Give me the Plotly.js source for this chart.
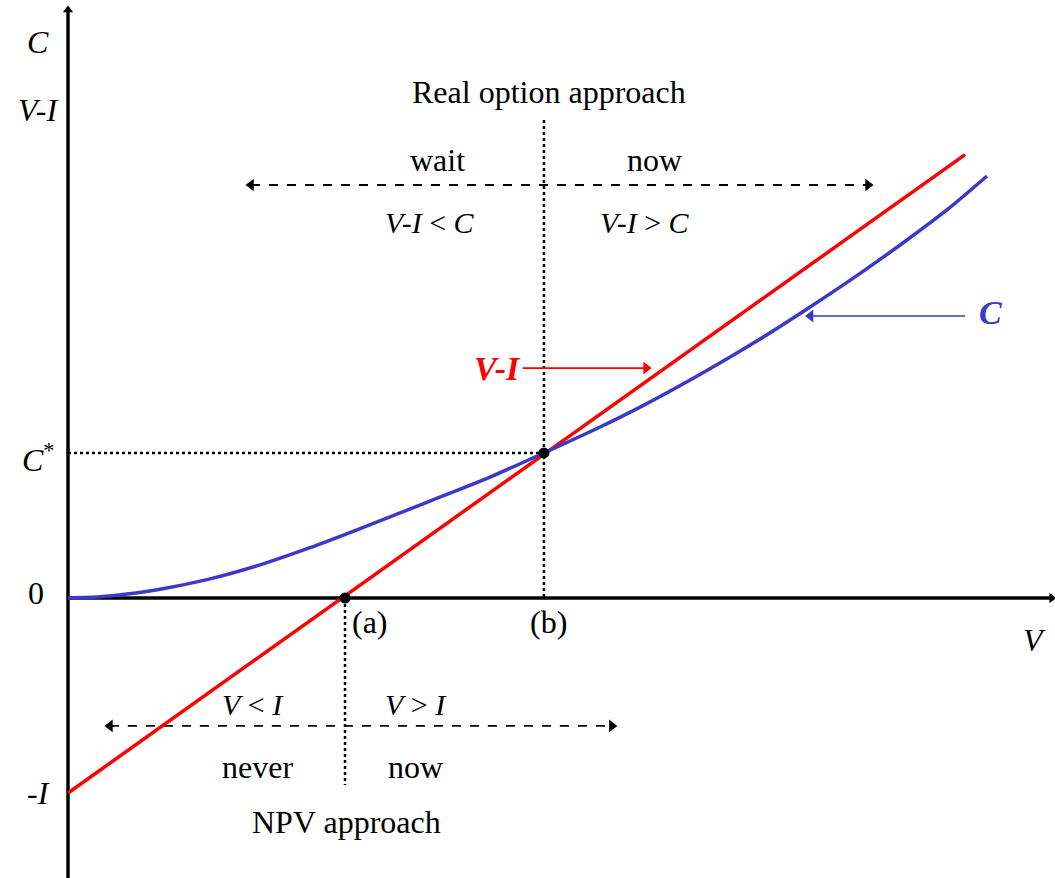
<!DOCTYPE html>
<html>
<head>
<meta charset="utf-8">
<script src="https://cdn.plot.ly/plotly-3.0.1.min.js"></script>
<style>
  html, body { margin: 0; padding: 0; background: #ffffff; }
  #chart { width: 1055px; height: 878px; }
</style>
</head>
<body>
<div id="chart"></div>
<script>
// Value of the firm V (investment cost I = 1) and the option value C
const optionV = [0, 0.117, 0.215, 0.336, 0.518, 0.701, 0.883, 1.066, 1.321, 1.540, 1.737,
                 1.942, 2.088, 2.332, 2.526, 2.697, 2.891, 3.062, 3.219, 3.354];
const optionC = [0, 0.006, 0.020, 0.045, 0.098, 0.170, 0.258, 0.356, 0.497, 0.620, 0.744,
                 0.877, 0.979, 1.167, 1.328, 1.482, 1.665, 1.836, 2.003, 2.164];

// NPV line V - I
const npvV = [0, 3.274];
const npvY = [-1, 2.274];

// Key points: (a) V = I, (b) V = V*, C = C*
const pointV = [1.011, 1.737];
const pointY = [0, 0.744];

// Axis extents
const axisTop = 3.015;
const axisBottom = -1.436;
const axisRight = 3.59;

// Arrow ranges for the two decision rules
const optionRuleX = [0.668, 2.920];
const optionRuleY = 2.118;
const npvRuleX = [0.153, 1.985];
const npvRuleY = -0.656;

// Pointers from the curve names
const redPointerX = [1.66, 2.11];
const redPointerY = 1.179;
const bluePointerX = [3.274, 2.71];
const bluePointerY = 1.446;

const serif = '"Liberation Serif", "DejaVu Serif", serif';
const blue = '#3a3ac8';
const red = '#ff0000';

function line(x, y, color, width, dash) {
    return {
        x: x, y: y, type: 'scatter', mode: 'lines',
        line: { color: color, width: width, dash: dash || 'solid' },
        hoverinfo: 'skip', showlegend: false
    };
}

function heads(x, y, symbols, size, color) {
    return {
        x: x, y: y, type: 'scatter', mode: 'markers',
        marker: { symbol: symbols, size: size, color: color || 'black' },
        hoverinfo: 'skip', showlegend: false
    };
}

const traces = [
    // axes
    line([0, 0], [axisBottom, axisTop], 'black', 3.5),
    line([0, axisRight], [0, 0], 'black', 3.5),
    heads([0, axisRight], [axisTop, 0], ['triangle-up', 'triangle-right'], 9),
    // guide lines
    line([0, pointV[1]], [pointY[1], pointY[1]], 'black', 2.5, 'dot'),
    line([pointV[1], pointV[1]], [2.451, 0], 'black', 2.5, 'dot'),
    line([pointV[0], pointV[0]], [0, -0.959], 'black', 2.5, 'dot'),
    // decision rule arrows
    line(optionRuleX, [optionRuleY, optionRuleY], 'black', 1.8, 'dash'),
    heads(optionRuleX, [optionRuleY, optionRuleY], ['triangle-left', 'triangle-right'], 11),
    line(npvRuleX, [npvRuleY, npvRuleY], 'black', 1.8, 'dash'),
    heads(npvRuleX, [npvRuleY, npvRuleY], ['triangle-left', 'triangle-right'], 11),
    // curves
    line(npvV, npvY, red, 3.5),
    {
        x: optionV, y: optionC, type: 'scatter', mode: 'lines',
        line: { color: blue, width: 3.5, shape: 'spline', smoothing: 0.8 },
        hoverinfo: 'skip', showlegend: false
    },
    {
        x: pointV, y: pointY, type: 'scatter', mode: 'markers',
        marker: { color: 'black', size: 11 },
        hoverinfo: 'skip', showlegend: false
    },
    // name pointers
    line(redPointerX, [redPointerY, redPointerY], red, 1.6),
    heads([redPointerX[1]], [redPointerY], ['triangle-right'], 11, red),
    line(bluePointerX, [bluePointerY, bluePointerY], blue, 1.6),
    heads([bluePointerX[1]], [bluePointerY], ['triangle-left'], 11, blue)
];

function label(x, y, text, size, color) {
    return {
        x: x, y: y, xref: 'x', yref: 'y', text: text, showarrow: false,
        font: { family: serif, size: size, color: color || 'black' },
        xanchor: 'center', yanchor: 'middle'
    };
}

const annotations = [
    label(-0.109, 2.851, '<i>C</i>', 32),
    label(-0.109, 2.503, '<i>V-I</i>', 32),
    label(-0.109, 0.72, '<i>C</i><sup>*</sup>', 32),
    label(-0.117, 0.026, '0', 32),
    label(-0.109, -1.0, '<i>-I</i>', 32),
    label(3.529, -0.215, '<i>V</i>', 32),
    label(1.102, -0.123, '(a)', 32),
    label(1.755, -0.123, '(b)', 32),
    label(1.755, 2.595, 'Real option approach', 32),
    label(1.347, 2.246, 'wait', 32),
    label(2.139, 2.246, 'now', 32),
    label(1.321, 1.928, '<i>V-I</i> < <i>C</i>', 30),
    label(2.106, 1.928, '<i>V-I</i> > <i>C</i>', 30),
    label(0.675, -0.544, '<i>V</i> < <i>I</i>', 30),
    label(1.27, -0.544, '<i>V</i> > <i>I</i>', 30),
    label(0.690, -0.867, 'never', 32),
    label(1.27, -0.867, 'now', 32),
    label(1.018, -1.149, 'NPV approach', 32),
    label(1.566, 1.179, '<b><i>V-I</i></b>', 34, red),
    label(3.365, 1.462, '<b><i>C</i></b>', 34, blue)
];

const layout = {
    width: 1055,
    height: 878,
    margin: { t: 0, b: 0, l: 0, r: 0 },
    paper_bgcolor: '#ffffff',
    plot_bgcolor: '#ffffff',
    showlegend: false,
    xaxis: { range: [-68 / 274, 987 / 274], visible: false, fixedrange: true },
    yaxis: { range: [-280 / 195, 598 / 195], visible: false, fixedrange: true },
    annotations: annotations
};

Plotly.newPlot('chart', traces, layout, { displayModeBar: false, staticPlot: true });
</script>
</body>
</html>
